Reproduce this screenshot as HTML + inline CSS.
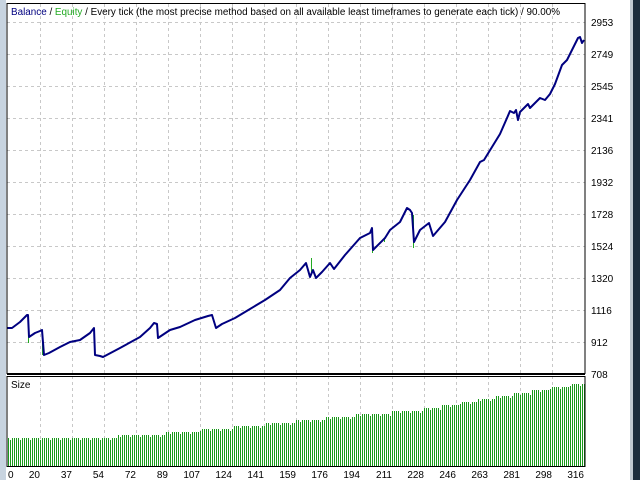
<!DOCTYPE html>
<html><head><style>
body{margin:0;width:640px;height:480px;overflow:hidden;background:#fff;font-family:"Liberation Sans",sans-serif}
</style></head><body>
<svg width="640" height="480" xmlns="http://www.w3.org/2000/svg" font-family="Liberation Sans, sans-serif" font-size="10">
<rect x="0" y="0" width="640" height="480" fill="#fff"/>
<rect x="0" y="0" width="6" height="480" fill="#c8d4e0"/>
<rect x="630" y="0" width="3" height="480" fill="#c0c8d0"/>
<rect x="633" y="0" width="7" height="480" fill="#1c2c3c"/>
<g stroke="#c8c8c8" stroke-dasharray="3,3" stroke-width="1">
<g id="v"></g>
<line x1="7" y1="22.5" x2="585" y2="22.5"/><line x1="7" y1="54.5" x2="585" y2="54.5"/>
<line x1="7" y1="86.5" x2="585" y2="86.5"/><line x1="7" y1="118.5" x2="585" y2="118.5"/>
<line x1="7" y1="150.5" x2="585" y2="150.5"/><line x1="7" y1="182.5" x2="585" y2="182.5"/>
<line x1="7" y1="214.5" x2="585" y2="214.5"/><line x1="7" y1="246.5" x2="585" y2="246.5"/>
<line x1="7" y1="278.5" x2="585" y2="278.5"/><line x1="7" y1="310.5" x2="585" y2="310.5"/>
<line x1="7" y1="342.5" x2="585" y2="342.5"/>
</g>
<g id="bars" fill="#1a9a1a"></g>
<g stroke="#22aa22" stroke-width="1">
<line x1="28.5" y1="328" x2="28.5" y2="343"/><line x1="42.5" y1="342" x2="42.5" y2="355"/>
<line x1="311.5" y1="258" x2="311.5" y2="272"/><line x1="372.5" y1="230" x2="372.5" y2="253"/>
<line x1="413.5" y1="215" x2="413.5" y2="248"/><line x1="384.5" y1="238" x2="384.5" y2="242"/>
</g>
<polyline fill="none" stroke="#000080" stroke-width="2" stroke-linejoin="round" points="7,328 12,328 20,322 27,315 28,315 29,337 35,333 40,331 42,330 44,355 49,353 60,347 70,342 80,340 90,333 94,328 95,355 100,356 103,357 120,348 140,337 150,328 154,323 157,324 158,338 170,330 180,327 195,320 208,316 212,315 216,328 222,324 235,318 250,309 265,300 280,290 290,278 300,270 306,263 310,277 313,270 316,278 322,272 330,263 334,269 345,255 360,238 370,233 372,228 373,250 385,238 390,230 400,222 407,208 410,210 412,213 414,242 420,230 429,223 433,236 445,222 457,200 470,180 480,162 484,160 500,134 507,118 510,111 514,113 516,110 518,120 520,112 528,104 530,108 540,98 545,100 550,94 555,84 562,65 567,60 572,50 578,38 580,37 582,43 584,40"/>
<rect x="7" y="3.5" width="578" height="370" fill="none" stroke="#000" stroke-width="1"/>
<rect x="7" y="376.5" width="578" height="90" fill="none" stroke="#000" stroke-width="1"/>
<line x1="7" y1="374.5" x2="585" y2="374.5" stroke="#000"/>
<text x="11" y="15" fill="#000080" textLength="549" lengthAdjust="spacingAndGlyphs">Balance <tspan fill="#000">/</tspan> <tspan fill="#22aa22">Equity</tspan> <tspan fill="#000">/ Every tick (the most precise method based on all available least timeframes to generate each tick) / 90.00%</tspan></text>
<text x="11" y="388" fill="#000">Size</text>
<g fill="#000">
<text x="591" y="26">2953</text><text x="591" y="58">2749</text><text x="591" y="90">2545</text>
<text x="591" y="122">2341</text><text x="591" y="154">2136</text><text x="591" y="186">1932</text>
<text x="591" y="218">1728</text><text x="591" y="250">1524</text><text x="591" y="282">1320</text>
<text x="591" y="314">1116</text><text x="591" y="346">912</text><text x="591" y="378">708</text>
</g>
<g id="xl" fill="#000"></g>
</svg>
<script>
var ns="http://www.w3.org/2000/svg";
var v=document.getElementById("v");
for(var x=40;x<=552;x+=32){var l=document.createElementNS(ns,"line");l.setAttribute("x1",x+.5);l.setAttribute("x2",x+.5);l.setAttribute("y1",4);l.setAttribute("y2",466);v.appendChild(l);}
var labs=["0","20","37","54","72","89","107","124","141","159","176","194","211","228","246","263","281","298","316"];
var xl=document.getElementById("xl");
for(var i=0;i<labs.length;i++){var t=document.createElementNS(ns,"text");var gx=8+32*i;t.setAttribute("x",i==0?8:gx);t.setAttribute("y",478);t.setAttribute("text-anchor",i==0?"start":"end");t.textContent=labs[i];xl.appendChild(t);}
var pts=[[8,438],[90,438],[160,434],[250,426],[350,416],[420,410],[480,400],[540,390],[584,383]];
function f(x){for(var i=0;i<pts.length-1;i++){if(x<=pts[i+1][0]){var a=pts[i],b=pts[i+1];return a[1]+(b[1]-a[1])*(x-a[0])/(b[0]-a[0]);}}return 383;}
var bars=document.getElementById("bars");
for(var x=8;x<=584;x+=2){var y=Math.round(f(x)/3)*3+((x*7)%5==0?2:0);var r=document.createElementNS(ns,"rect");r.setAttribute("x",x);r.setAttribute("y",y);r.setAttribute("width",1);r.setAttribute("height",466-y);bars.appendChild(r);}
</script>
</body></html>
